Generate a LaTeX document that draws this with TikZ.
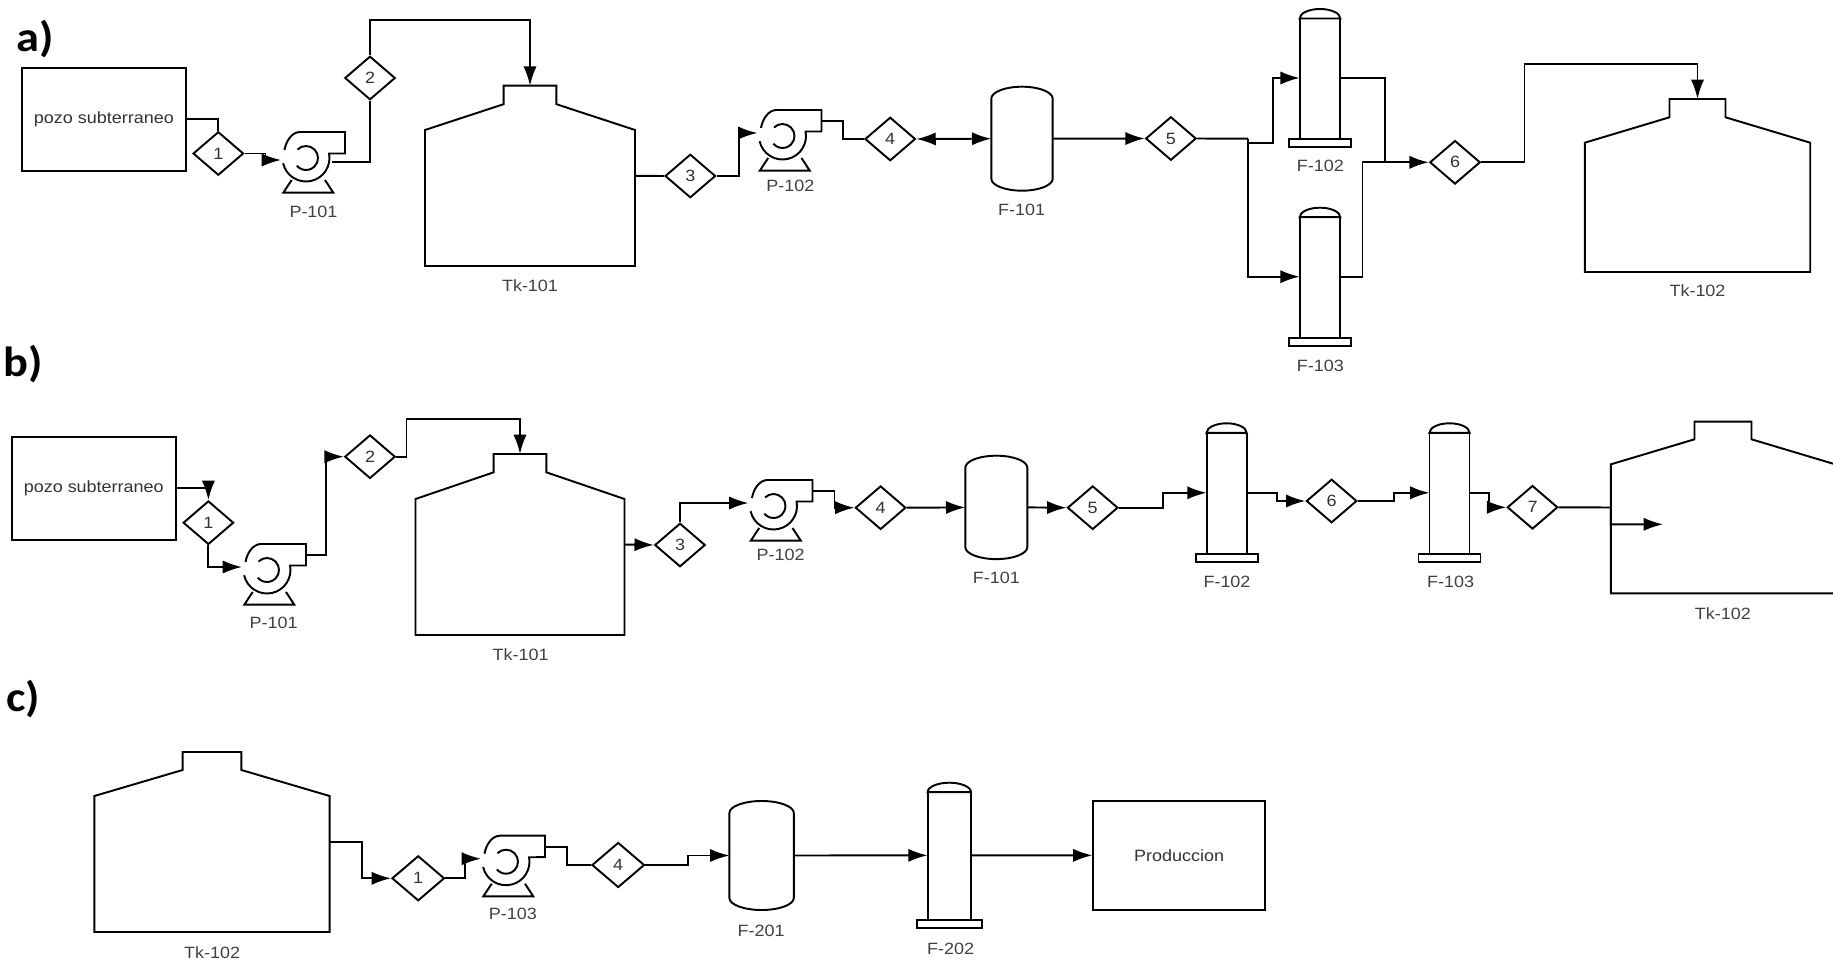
\documentclass[tikz,border=0pt]{standalone}
\usepackage{fontspec}
\setmainfont[FakeStretch=1.1]{Liberation Sans}
\newfontfamily\headfont[FakeStretch=1.1]{Carlito}
\usetikzlibrary{arrows.meta,shapes.geometric}
\tikzset{
  pipe/.style={line width=1.1pt,line join=miter},
  stream/.style={pipe,-{Latex[length=11pt,width=7.5pt]}},
  twoway/.style={pipe,{Latex[length=11pt,width=7.5pt]}-{Latex[length=11pt,width=7.5pt]}},
  valve/.style={draw,diamond,line width=1.1pt,inner sep=0pt,minimum width=1.01cm,minimum height=.87cm,
    text=black!80,font=\fontsize{9.3}{11}\selectfont},
  block/.style={draw,rectangle,line width=1.1pt,inner sep=0pt,
    text=black!80,font=\fontsize{9.3}{11}\selectfont},
  tag/.style={inner sep=0pt,text=black!75,font=\fontsize{9.3}{11}\selectfont},
  head/.style={inner sep=0pt,font=\headfont\bfseries\fontsize{24}{28}\selectfont},
  pics/pump/.style={code={
    \draw[pipe] (167:23.5) arc (167:-11:23.5) -- (39,-4.5) -- (39,-26) -- (-6,-26)
      .. controls (-14,-26) and (-20,-17) .. (-21.5,-8);
    \draw[pipe] (-135:12) arc (-135:140:12);
    \draw[pipe] (-14.3,22) -- (-22.7,34.7) -- (27.3,34.7) -- (19,22);
    \coordinate (-in) at (-25,-3);
    \coordinate (-inlow) at (-25,2);
    \coordinate (-out) at (39,-15);
    \coordinate (-outlow) at (26,3.7);
  }},
  pics/tank/.style n args={5}{code={
    \draw[pipe] (-#2,0) -- (#2,0) -- (#2,#3) -- (#1,#4) -- (#1,#5) -- (-#1,#5) -- (-#1,#4) -- (-#2,#3) -- cycle;
    \coordinate (-top) at (0,0);
    \coordinate (-w) at (-#1,#5/2);
    \coordinate (-e) at (#1,#5/2);
  }},
  pics/vessel/.style n args={2}{code={
    \draw[pipe] (-#1,-#2+12) arc (180:360:#1 and 12) -- (#1,#2-12) arc (0:180:#1 and 12) -- cycle;
    \coordinate (-w) at (-#1,0);
    \coordinate (-e) at (#1,0);
  }},
  pics/column/.style n args={2}{code={
    \draw[pipe] (-#1,9.5) arc (180:360:#1 and 9.5) -- cycle;
    \draw[pipe] (-#1,9.5) -- (-#1,#2-8) (#1,9.5) -- (#1,#2-8);
    \draw[pipe] (-#1-11,#2-8) rectangle (#1+11,#2);
    \coordinate (-w) at (-#1,#2/2);
    \coordinate (-e) at (#1,#2/2);
  }}
}
\begin{document}
\begin{tikzpicture}[x=0.02cm,y=-0.02cm]
\path[use as bounding box,clip] (0,0) rectangle (1833,963);
\node[head] (heada) at (35,39) {a)};
\node[head] (headb) at (23,364) {b)};
\node[head] (headc) at (23,699) {c)};
% diamonds, one per stream
\foreach \nm/\x/\y/\lbl in {da1/218.3/153.5/1, da2/370/78/2, da3/690.3/176/3, da4/890.2/139/4,
    da5/1170.9/138.5/5, da6/1455/162.3/6, db1/208.4/522.7/1, db2/370/456.7/2, db3/680/545/3,
    db4/880.6/507.7/4, db5/1092.7/507.7/5, db6/1331.6/501/6, db7/1532.5/507.3/7}{
  \node[valve] (\nm) at (\x,\y) {\lbl};
}
\node[valve,minimum width=1.05cm,minimum height=.9cm] (dc1) at (418.2,878.3) {1};
\node[valve,minimum width=1.05cm,minimum height=.9cm] (dc4) at (618.2,865) {4};
% tags under the equipment
\foreach \nm/\x/\y/\lbl in {lpa1/313.5/212/P-101, ltka1/530/286/Tk-101, lpa2/790.3/186/P-102,
    lfa1/1021.6/210/F-101, lfa2/1320.3/166/F-102, lfa3/1320.3/365.7/F-103, ltka2/1697.5/291/Tk-102,
    lpb1/273.6/623.3/P-101, ltkb1/520.6/654.3/Tk-101, lpb2/780.7/555/P-102, lfb1/996.3/578.3/F-101,
    lfb2/1227/581.7/F-102, lfb3/1450.6/581.7/F-103, ltkb2/1722.8/613.3/Tk-102,
    ltkc/212.2/952.7/Tk-102, lpc/512.9/914.3/P-103, lfc1/761.2/930.7/F-201, lfc2/950.7/949/F-202}{
  \node[tag] (\nm) at (\x,\y) {\lbl};
}
% a)
\node[block,minimum width=3.286cm,minimum height=2.066cm] (pozoa) at (103.9,119.4) {pozo subterraneo};
\pic (pa1) at (306,158) {pump};
\pic (pa2) at (782.5,136) {pump};
\pic (tka1) at (530,85.7) {tank={105}{26.4}{18.5}{44.3}{180.3}};
\pic (tka2) at (1697.5,99) {tank={112.7}{28}{18.3}{43.7}{173}};
\pic (fa1) at (1022,138.7) {vessel={30.7}{52}};
\pic (fa2) at (1320,9) {column={20.3}{138}};
\pic (fa3) at (1320,207.7) {column={20.3}{138}};
\coordinate (ja5) at (1248,138.7);
\coordinate (ja6) at (1385.2,162.3);
\draw[pipe] (pozoa.east) -| (da1.north);
\draw[stream] (da1.east) -- ++(21,0) |- (pa1-inlow);
\draw[pipe] (pa1-outlow) -| (da2.south);
\draw[stream] (da2.north) -- ++(0,-35.4) -| (tka1-top);
\draw[pipe] (tka1-e) -- (da3.west);
\draw[stream] (da3.east) -- ++(22.5,0) |- (pa2-in);
\draw[pipe] (pa2-out) -- ++(21.3,0) |- (da4.west);
\draw[twoway] (da4.east) -- (fa1-w);
\draw[stream] (fa1-e) -- (da5.west);
\draw[pipe] (da5.east) -- (ja5);
\draw[stream] (ja5) -- ++(0,4.6) -- ++(25.3,0) |- (fa2-w);
\draw[stream] (ja5) |- (fa3-w);
\draw[pipe] (fa3-e) -- ++(22.2,0) |- (ja6);
\draw[stream] (fa2-e) -| (ja6) -- (da6.west);
\draw[stream] (da6.east) -- ++(43.3,0) -- ++(0,-98) -| (tka2-top);
% b)
\node[block,minimum width=3.274cm,minimum height=2.06cm] (pozob) at (93.75,488.2) {pozo subterraneo};
\pic (pb1) at (267,570) {pump};
\pic (pb2) at (773.5,506) {pump};
\pic (tkb1) at (520,454) {tank={104.5}{26.3}{18.3}{45}{181}};
\pic (tkb2) at (1723,421.7) {tank={112.1}{28.5}{17.6}{42.6}{171.6}};
\pic (fb1) at (996.3,507.4) {vessel={31}{51.7}};
\pic (fb2) at (1226.6,423.3) {column={20}{139}};
\pic (fb3) at (1449.5,423.3) {column={20}{139}};
\coordinate (tipb) at (1663,524.3);
\draw[stream] (pozob.east) -| (db1.north);
\draw[stream] (db1.south) |- (pb1-in);
\draw[stream] (pb1-out) -- ++(19.7,0) |- (db2.west);
\draw[stream] (db2.east) -- ++(10.3,0) -- ++(0,-37.7) -| (tkb1-top);
\draw[stream] (tkb1-e) -- (db3.west);
\draw[stream] (db3.north) |- (pb2-in);
\draw[stream] (pb2-out) -- ++(22,0) |- (db4.west);
\draw[stream] (db4.east) -- (fb1-w);
\draw[stream] (fb1-e) -- (db5.west);
\draw[stream] (db5.east) -- ++(44,0) |- (fb2-w);
\draw[stream] (fb2-e) -- ++(30,0) |- (db6.west);
\draw[stream] (db6.east) -- ++(36,0) |- (fb3-w);
\draw[stream] (fb3-e) -- ++(19.2,0) |- (db7.west);
\draw[stream] (db7.east) -- (tkb2-w) |- (tipb);
% c)
\node[block,minimum width=3.43cm,minimum height=2.174cm] (prod) at (1179.15,855.35) {Produccion};
\pic (pc) at (506,861.7) {pump};
\pic (tkc) at (212,752) {tank={117.6}{29.4}{18}{44}{180}};
\pic (fc1) at (761.6,855.5) {vessel={32.2}{54.5}};
\pic (fc2) at (949.3,782.7) {column={21.7}{145.3}};
\draw[stream] (tkc-e) -- ++(32,0) |- (dc1.west);
\draw[stream] (dc1.east) -- ++(20,0) |- (pc-in);
\draw[pipe] (pc-out) -- ++(22,0) |- (dc4.west);
\draw[stream] (dc4.east) -- ++(43,0) |- (fc1-w);
\draw[stream] (fc1-e) -- (fc2-w);
\draw[stream] (fc2-e) -- (prod.west);
\end{tikzpicture}
\end{document}
